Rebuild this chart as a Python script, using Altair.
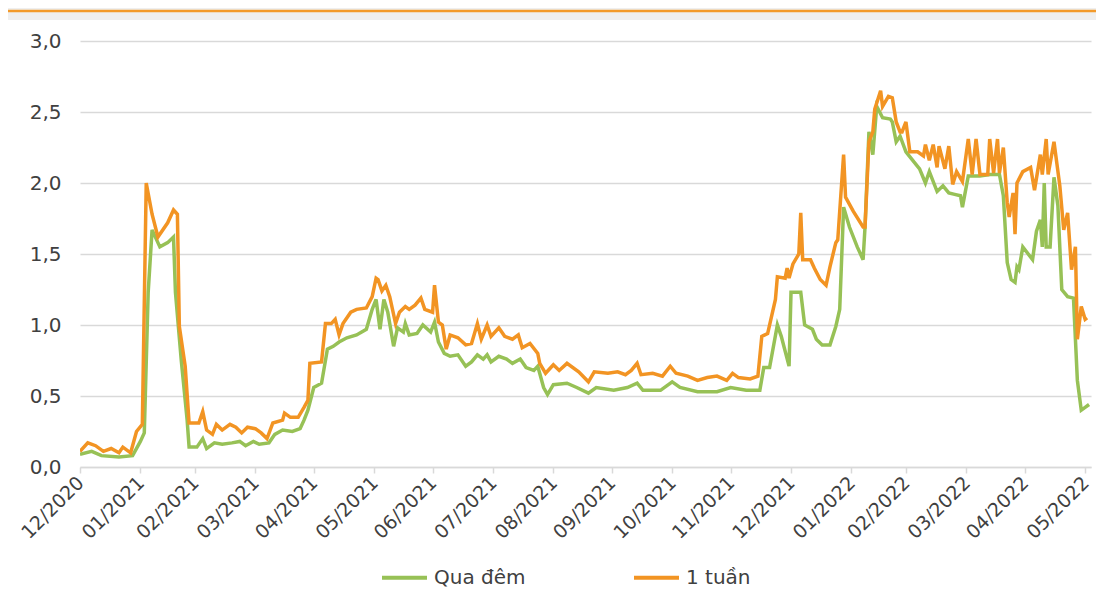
import altair as alt
import pandas as pd

# Days counted from 01/01/2021, and rates in %
start_date = "2021-01-01"

qua_dem_days = [0, 6, 11, 20, 27, 31, 33, 35, 37, 41, 45, 48, 49, 52, 55, 56, 60, 63, 65, 69,
                73, 78, 82, 85, 89, 92, 97, 100, 104, 109, 113, 115, 117, 120, 124, 127, 130, 133, 137, 142,
                147, 150, 152, 154, 156, 158, 161, 163, 166, 167, 169, 173, 176, 180, 182, 184, 187, 190, 194, 198,
                201, 204, 207, 209, 211, 215, 219, 222, 226, 229, 233, 235, 238, 240, 243, 250, 255, 261, 265, 274,
                281, 286, 289, 298, 304, 308, 317, 327, 334, 342, 349, 351, 354, 358, 360, 364, 365, 370, 372, 376,
                378, 381, 385, 388, 390, 392, 395, 399, 402, 403, 405, 407, 409, 412, 416, 417, 419, 421, 424, 428,
                431, 434, 436, 440, 443, 446, 449, 452, 453, 456, 462, 467, 472, 474, 476, 478, 480, 481, 482, 484,
                489, 491, 493, 494, 495, 496, 498, 500, 502, 504, 507, 510, 511, 512, 514, 516, 518]
qua_dem_values = [0.09, 0.11, 0.08, 0.07, 0.08, 0.18, 0.24, 1.23, 1.67, 1.55, 1.58, 1.62, 1.23, 0.75, 0.33, 0.14, 0.14, 0.20, 0.13, 0.17,
                  0.16, 0.17, 0.18, 0.15, 0.18, 0.16, 0.17, 0.23, 0.26, 0.25, 0.27, 0.33, 0.40, 0.56, 0.59, 0.83, 0.85, 0.88, 0.91, 0.93,
                  0.97, 1.11, 1.18, 0.97, 1.18, 1.09, 0.85, 0.98, 0.95, 1.01, 0.93, 0.94, 1.00, 0.95, 1.02, 0.88, 0.80, 0.78, 0.79, 0.71,
                  0.74, 0.79, 0.76, 0.79, 0.74, 0.78, 0.76, 0.73, 0.76, 0.70, 0.68, 0.71, 0.56, 0.51, 0.58, 0.59, 0.56, 0.52, 0.56, 0.54,
                  0.56, 0.59, 0.54, 0.54, 0.60, 0.56, 0.53, 0.53, 0.56, 0.54, 0.54, 0.70, 0.70, 1.00, 0.92, 0.71, 1.23, 1.23, 1.00, 0.97,
                  0.90, 0.86, 0.86, 0.99, 1.11, 1.83, 1.69, 1.55, 1.46, 1.69, 2.36, 2.20, 2.54, 2.46, 2.45, 2.43, 2.29, 2.33, 2.22, 2.15,
                  2.10, 2.00, 2.08, 1.94, 1.98, 1.93, 1.92, 1.91, 1.83, 2.05, 2.05, 2.06, 2.06, 1.91, 1.44, 1.32, 1.30, 1.41, 1.39, 1.55,
                  1.46, 1.66, 1.74, 1.55, 2.00, 1.55, 1.55, 2.04, 1.84, 1.25, 1.20, 1.19, 0.90, 0.61, 0.40, 0.42, 0.44]

mot_tuan_days = [0, 4, 8, 12, 16, 20, 22, 26, 29, 32, 34, 37, 40, 45, 48, 50, 51, 54, 56, 61,
                 63, 65, 68, 70, 73, 77, 80, 83, 86, 90, 93, 96, 99, 104, 105, 108, 112, 115, 117, 118,
                 124, 126, 129, 131, 133, 135, 139, 142, 147, 150, 152, 153, 155, 157, 159, 162, 164, 167, 169, 172,
                 175, 177, 181, 182, 184, 186, 188, 190, 194, 198, 201, 204, 206, 209, 211, 215, 218, 222, 225, 227,
                 231, 235, 236, 239, 243, 246, 250, 256, 261, 264, 271, 276, 280, 283, 286, 288, 294, 299, 303, 306,
                 312, 317, 322, 327, 332, 335, 338, 344, 348, 350, 353, 357, 358, 362, 363, 364, 366, 369, 370, 371,
                 375, 377, 380, 383, 385, 388, 389, 392, 393, 397, 402, 403, 405, 407, 408, 411, 412, 415, 417, 419,
                 421, 422, 424, 426, 430, 433, 434, 436, 438, 440, 441, 444, 446, 448, 450, 453, 456, 458, 460, 462,
                 466, 467, 469, 471, 472, 474, 476, 477, 479, 480, 481, 484, 488, 490, 493, 494, 496, 497, 500, 503,
                 505, 507, 509, 511, 512, 514, 516, 517]
mot_tuan_values = [0.11, 0.17, 0.15, 0.11, 0.13, 0.10, 0.14, 0.10, 0.25, 0.30, 2.00, 1.78, 1.62, 1.72, 1.81, 1.78, 0.99, 0.71, 0.31, 0.31,
                   0.39, 0.26, 0.23, 0.30, 0.26, 0.30, 0.28, 0.24, 0.28, 0.27, 0.24, 0.20, 0.31, 0.33, 0.38, 0.35, 0.35, 0.42, 0.47, 0.73,
                   0.74, 1.01, 1.01, 1.04, 0.93, 1.01, 1.09, 1.11, 1.12, 1.20, 1.33, 1.32, 1.24, 1.28, 1.20, 1.01, 1.09, 1.13, 1.11, 1.14,
                   1.19, 1.11, 1.09, 1.28, 1.02, 1.00, 0.83, 0.93, 0.91, 0.86, 0.87, 1.01, 0.90, 1.00, 0.92, 0.98, 0.92, 0.90, 0.93, 0.84,
                   0.87, 0.80, 0.73, 0.66, 0.72, 0.68, 0.73, 0.67, 0.60, 0.67, 0.66, 0.67, 0.65, 0.68, 0.73, 0.65, 0.66, 0.64, 0.71, 0.66,
                   0.64, 0.61, 0.63, 0.64, 0.61, 0.66, 0.63, 0.62, 0.64, 0.92, 0.94, 1.18, 1.34, 1.33, 1.40, 1.33, 1.43, 1.50, 1.79, 1.46,
                   1.46, 1.40, 1.32, 1.28, 1.41, 1.58, 1.60, 2.20, 1.90, 1.80, 1.69, 1.69, 2.29, 2.36, 2.52, 2.65, 2.54, 2.61, 2.60, 2.43,
                   2.36, 2.36, 2.43, 2.22, 2.22, 2.19, 2.27, 2.16, 2.27, 2.11, 2.26, 2.10, 2.26, 1.99, 2.08, 2.01, 2.31, 2.06, 2.31, 2.06,
                   2.06, 2.31, 2.07, 2.31, 2.07, 2.25, 1.86, 1.76, 1.93, 1.64, 2.00, 2.08, 2.11, 1.95, 2.20, 2.06, 2.31, 2.06, 2.29, 1.98,
                   1.67, 1.79, 1.39, 1.55, 0.90, 1.13, 1.04, 1.05]

series_names = ["Qua đêm", "1 tuần"]
series_colors = ["#97C156", "#F29423"]
y_ticks = [0.0, 0.5, 1.0, 1.5, 2.0, 2.5, 3.0]
tick_months = [(2021, m) for m in range(1, 13)] + [(2022, m) for m in range(1, 7)]

assert len(qua_dem_days) == len(qua_dem_values)
assert len(mot_tuan_days) == len(mot_tuan_values)

t0 = pd.Timestamp(start_date)
df_qd = pd.DataFrame({"date": t0 + pd.to_timedelta(qua_dem_days, unit="D"),
                      "value": qua_dem_values, "series": series_names[0]})
df_mt = pd.DataFrame({"date": t0 + pd.to_timedelta(mot_tuan_days, unit="D"),
                      "value": mot_tuan_values, "series": series_names[1]})

FONT = "DejaVu Sans"
TXT = "#404040"
GRID = "#d9d9d9"

x_values = [alt.DateTime(year=y, month=m, date=1) for (y, m) in tick_months]

x_enc = alt.X("date:T", title=None,
              scale=alt.Scale(domain=[alt.DateTime(year=2021, month=1, date=1),
                                      alt.DateTime(year=2022, month=6, date=4)]),
              axis=alt.Axis(values=x_values,
                            labelExpr="timeFormat(datum.value - 86400000, '%m/%Y')",
                            labelAngle=-45, labelAlign="right", labelBaseline="top",
                            labelFont=FONT, labelFontSize=19, labelColor=TXT,
                            labelFlush=False, labelOverlap=False, labelPadding=0, labelOffset=-6,
                            domainColor=GRID, domainWidth=1.5, tickColor=GRID, tickWidth=1.5,
                            tickSize=6, grid=False))
y_enc = alt.Y("value:Q", title=None,
              scale=alt.Scale(domain=[0, 3], nice=False),
              axis=alt.Axis(values=y_ticks,
                            labelExpr="replace(format(datum.value, '.1f'), '.', ',')",
                            labelFont=FONT, labelFontSize=20, labelColor=TXT, labelPadding=19,
                            domain=False, ticks=False, grid=True, gridColor=GRID, gridWidth=1.5))
legend = alt.Legend(title=None, orient="none", legendX=300, legendY=512,
                    direction="horizontal", symbolType="stroke",
                    symbolSize=2025, symbolStrokeWidth=4,
                    labelFont=FONT, labelFontSize=20, labelColor=TXT,
                    labelOffset=5, columnPadding=100, padding=0)
c_enc = alt.Color("series:N", sort=series_names,
                  scale=alt.Scale(domain=series_names, range=series_colors),
                  legend=legend)

line_qd = alt.Chart(df_qd).mark_line(strokeWidth=3.5, clip=True).encode(x=x_enc, y=y_enc, color=c_enc)
line_mt = alt.Chart(df_mt).mark_line(strokeWidth=3.5, clip=True).encode(x=x_enc, y=y_enc, color=c_enc)

deco = pd.DataFrame({"k": [0]})
band = alt.Chart(deco).mark_rect(color="#efefef").encode(
    x=alt.value(-72), x2=alt.value(1016), y=alt.value(-33), y2=alt.value(-21))
topline = alt.Chart(deco).mark_rule(color="#F39A2B", strokeWidth=2.5).encode(
    x=alt.value(-72), x2=alt.value(1016), y=alt.value(-30))

chart = alt.layer(band, topline, line_qd, line_mt).properties(
    width=1011, height=426,
    padding={"left": 72, "top": 33, "right": 5, "bottom": 121},
    autosize=alt.AutoSizeParams(type="none"),
    background="white",
).configure_view(stroke=None)

chart.save("out.html", embed_options={"renderer": "svg", "actions": False})
